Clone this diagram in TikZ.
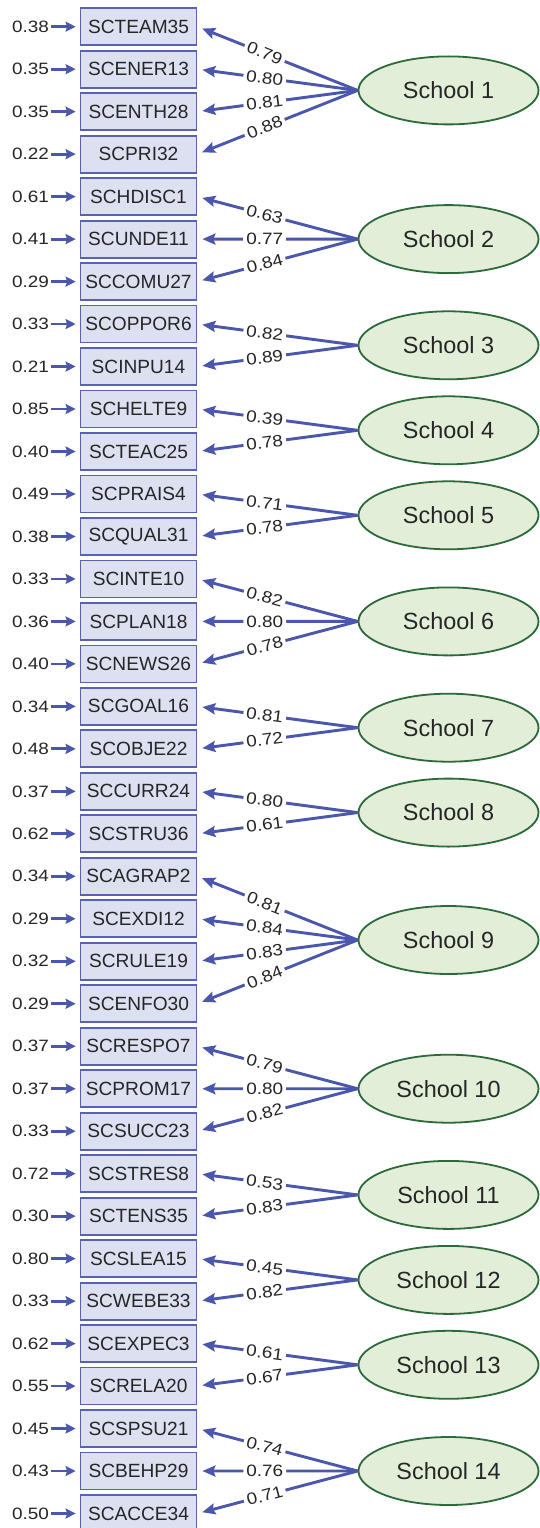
\documentclass[tikz,border=0pt]{standalone}
\usepackage{fontspec}
\setmainfont{Liberation Sans}
\newfontfamily\widelbl[FakeStretch=1.15]{Liberation Sans}
\usetikzlibrary{arrows.meta,shapes.geometric}
\definecolor{boxfill}{HTML}{DDE0F1}
\definecolor{boxline}{HTML}{5962B2}
\definecolor{arrowblue}{HTML}{4B56AD}
\definecolor{latfill}{HTML}{E3EED8}
\definecolor{latline}{HTML}{2C6A3C}
\definecolor{txt}{HTML}{262626}
\tikzset{
  indbox/.style={draw=boxline, fill=boxfill, line width=1.8bp, minimum width=116bp, minimum height=37bp, inner sep=0pt, text=txt, font=\fontsize{19.2}{21}\selectfont},
  errlbl/.style={inner sep=0pt, text=txt, font=\widelbl\fontsize{16.5}{18}\selectfont, anchor=east},
  errarrow/.style={draw=arrowblue, line width=2.8bp, -{Stealth[length=10bp,width=10bp,inset=1.5bp]}, shorten <=2bp, shorten >=4bp},
  latent/.style={ellipse, draw=latline, fill=latfill, line width=1.8bp, minimum width=180bp, minimum height=68bp, inner sep=0pt, text=txt, font=\fontsize{23.5}{25}\selectfont},
  loadarrow/.style={draw=arrowblue, line width=2.9bp, -{Stealth[length=13bp,width=11bp,inset=2bp]}, shorten >=5bp},
  loadlbl/.style={pos=0.58, sloped, fill=white, inner xsep=3bp, inner ysep=1bp, text=txt, font=\widelbl\fontsize{16.5}{18}\selectfont}
}
\begin{document}
\begin{tikzpicture}[x=1bp,y=-1bp]
\clip (0,0) rectangle (540,1528);
\fill[white] (0,0) rectangle (540,1528);
\foreach \n/\e [count=\i from 0] in {SCTEAM35/0.38,SCENER13/0.35,SCENTH28/0.35,SCPRI32/0.22,SCHDISC1/0.61,SCUNDE11/0.41,SCCOMU27/0.29,SCOPPOR6/0.33,SCINPU14/0.21,SCHELTE9/0.85,SCTEAC25/0.40,SCPRAIS4/0.49,SCQUAL31/0.38,SCINTE10/0.33,SCPLAN18/0.36,SCNEWS26/0.40,SCGOAL16/0.34,SCOBJE22/0.48,SCCURR24/0.37,SCSTRU36/0.62,SCAGRAP2/0.34,SCEXDI12/0.29,SCRULE19/0.32,SCENFO30/0.29,SCRESPO7/0.37,SCPROM17/0.37,SCSUCC23/0.33,SCSTRES8/0.72,SCTENS35/0.30,SCSLEA15/0.80,SCWEBE33/0.33,SCEXPEC3/0.62,SCRELA20/0.55,SCSPSU21/0.45,SCBEHP29/0.43,SCACCE34/0.50}
{
  \node[indbox] (b\i) at (138.5, 26.7+42.48*\i) {\n};
  \node[errlbl] (e\i) at (49, 26.7+42.48*\i) {\e};
  \draw[errarrow] (e\i.east) -- (b\i.west);
}
\foreach \s/\y in {1/90.4,2/239.1,3/345.3,4/430.3,5/515.3,6/621.4,7/727.7,8/812.6,9/940.0,10/1088.7,11/1194.9,12/1279.9,13/1364.8,14/1471.0}
{
  \node[latent] (S\s) at (448.5, \y) {School \s};
}
\foreach \s/\b/\l in {1/0/0.79,1/1/0.80,1/2/0.81,1/3/0.88,
  2/4/0.63,2/5/0.77,2/6/0.84,
  3/7/0.82,3/8/0.89,
  4/9/0.39,4/10/0.78,
  5/11/0.71,5/12/0.78,
  6/13/0.82,6/14/0.80,6/15/0.78,
  7/16/0.81,7/17/0.72,
  8/18/0.80,8/19/0.61,
  9/20/0.81,9/21/0.84,9/22/0.83,9/23/0.84,
  10/24/0.79,10/25/0.80,10/26/0.82,
  11/27/0.53,11/28/0.83,
  12/29/0.45,12/30/0.82,
  13/31/0.61,13/32/0.67,
  14/33/0.74,14/34/0.76,14/35/0.71}
{
  \draw[loadarrow] (S\s.west) -- node[loadlbl]{\l} (b\b.east);
}
\end{tikzpicture}
\end{document}
